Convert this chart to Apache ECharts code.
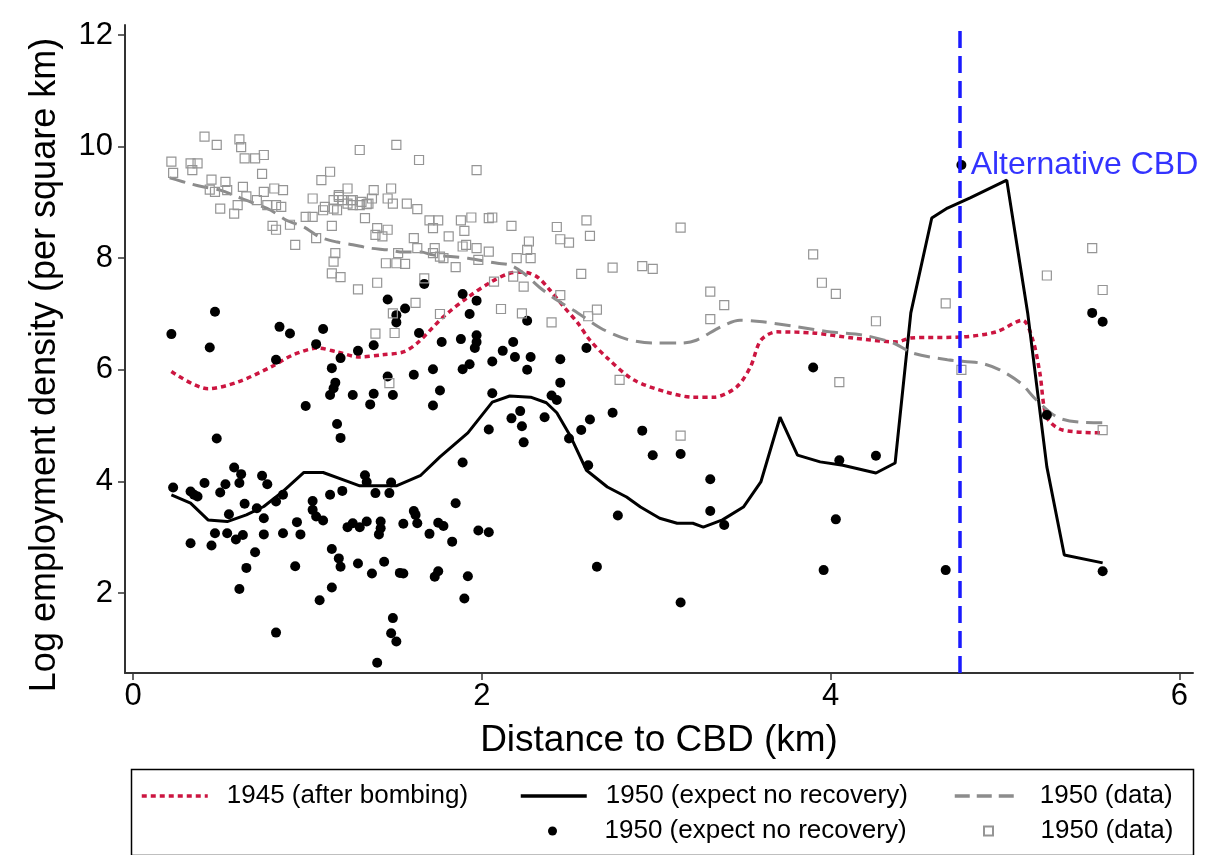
<!DOCTYPE html>
<html><head><meta charset="utf-8">
<script src="https://cdn.jsdelivr.net/npm/echarts@6/dist/echarts.min.js"></script>
<style>html,body{margin:0;padding:0;background:#fff}#c{width:1219px;height:855px}</style>
</head><body><div id="c"></div>
<script>
// ---------- data ----------
const xTicks = [0, 2, 4, 6];
const yTicks = [2, 4, 6, 8, 10, 12];
const cbdX = 4.74;
const cbdLabelY = 9.67;
const cbdLabel = 'Alternative CBD';
const xTitle = 'Distance to CBD (km)';
const yTitle = 'Log employment density (per square km)';

// 1945 (after bombing) – smoothed line
const line1945 = [[0.22,5.97],[0.43,5.66],[0.60,5.78],[0.79,6.05],[0.92,6.27],[1.06,6.39],[1.17,6.32],[1.30,6.23],[1.43,6.27],[1.55,6.32],[1.63,6.48],[1.78,6.95],[1.92,7.30],[2.05,7.57],[2.16,7.73],[2.24,7.75],[2.32,7.66],[2.39,7.43],[2.47,7.13],[2.55,6.84],[2.62,6.53],[2.72,6.21],[2.87,5.82],[3.06,5.60],[3.21,5.51],[3.33,5.51],[3.46,5.69],[3.54,6.05],[3.60,6.53],[3.69,6.68],[3.90,6.66],[4.13,6.57],[4.38,6.50],[4.46,6.57],[4.76,6.59],[4.95,6.68],[5.10,6.89],[5.16,6.53],[5.20,5.94],[5.24,5.15],[5.33,4.92],[5.56,4.87]];

// 1950 (expect no recovery) – line
const lineNoRecovery = [[0.22,3.76],[0.33,3.61],[0.43,3.31],[0.54,3.28],[0.65,3.40],[0.75,3.55],[0.86,3.82],[0.98,4.16],[1.09,4.16],[1.23,4.00],[1.30,3.92],[1.51,3.92],[1.65,4.11],[1.76,4.44],[1.92,4.87],[2.06,5.42],[2.16,5.53],[2.28,5.51],[2.37,5.41],[2.43,5.23],[2.51,4.80],[2.60,4.20],[2.72,3.90],[2.83,3.72],[2.91,3.54],[3.02,3.34],[3.12,3.25],[3.21,3.25],[3.27,3.18],[3.38,3.31],[3.50,3.54],[3.60,3.99],[3.71,5.15],[3.81,4.47],[3.94,4.35],[4.07,4.29],[4.26,4.15],[4.37,4.33],[4.46,7.02],[4.58,8.72],[4.67,8.90],[4.80,9.08],[5.01,9.40],[5.13,7.02],[5.24,4.26],[5.34,2.68],[5.56,2.54]];

// 1950 (data) – smoothed line
const lineData1950 = [[0.21,9.44],[0.31,9.35],[0.40,9.28],[0.50,9.22],[0.60,9.10],[0.69,8.99],[0.79,8.86],[0.88,8.68],[0.98,8.56],[1.07,8.38],[1.17,8.29],[1.26,8.24],[1.36,8.18],[1.46,8.15],[1.55,8.11],[1.65,8.11],[1.72,8.06],[1.92,8.00],[2.09,7.91],[2.16,7.88],[2.24,7.73],[2.33,7.48],[2.43,7.25],[2.55,7.02],[2.68,6.75],[2.83,6.55],[2.98,6.48],[3.14,6.48],[3.23,6.53],[3.37,6.77],[3.48,6.89],[3.61,6.86],[3.81,6.77],[4.00,6.68],[4.19,6.62],[4.36,6.48],[4.47,6.30],[4.67,6.18],[4.86,6.12],[4.97,6.00],[5.09,5.76],[5.18,5.46],[5.30,5.15],[5.43,5.06],[5.56,5.05]];

// 1950 (expect no recovery) – points
const dotsNoRecovery = [[0.22,6.64],[0.47,7.04],[0.44,6.40],[0.84,6.77],[0.90,6.65],[1.09,6.73],[1.05,6.46],[0.82,6.18],[0.99,5.35],[0.48,4.77],
[1.14,6.03],[1.16,5.77],[1.15,5.67],[1.13,5.55],[1.19,6.21],[1.29,6.34],[1.38,6.44],[1.26,5.55],[1.38,5.57],[1.36,5.38],
[1.49,5.55],[1.46,5.88],[1.61,5.91],[1.17,5.03],[1.19,4.78],[1.46,7.26],[1.56,7.10],[1.51,6.98],[1.51,6.85],[1.64,6.66],
[0.23,3.89],[0.33,3.82],[0.35,3.76],[0.37,3.73],[0.41,3.97],[0.50,3.80],[0.53,3.95],[0.58,4.25],[0.62,4.13],[0.61,3.97],
[0.74,4.10],[0.77,3.95],[0.64,3.60],[0.55,3.41],[0.71,3.52],[0.75,3.34],[0.82,3.64],[0.86,3.76],[0.33,2.89],[0.45,2.85],
[0.47,3.07],[0.54,3.07],[0.59,2.96],[0.63,3.04],[0.75,3.05],[0.86,3.07],[0.94,3.27],[0.96,3.05],[0.70,2.73],[0.65,2.45],
[0.61,2.07],[0.93,2.48],[0.82,1.29],[1.03,3.65],[1.03,3.49],[1.05,3.37],[1.09,3.30],[1.13,3.76],[1.20,3.83],[1.33,4.11],
[1.34,3.99],[1.39,3.79],[1.47,3.79],[1.48,3.98],[1.23,3.18],[1.26,3.25],[1.30,3.18],[1.34,3.28],[1.42,3.28],[1.42,3.16],
[1.41,3.05],[1.55,3.24],[1.61,3.47],[1.63,3.25],[1.14,2.79],[1.18,2.62],[1.19,2.47],[1.29,2.53],[1.37,2.35],[1.44,2.56],
[1.53,2.36],[1.55,2.35],[1.14,2.10],[1.07,1.87],[1.49,1.55],[1.48,1.28],[1.51,1.13],[1.40,0.75],
[1.67,7.54],[1.89,7.36],[1.97,7.24],[1.93,7.00],[1.77,6.50],[1.88,6.55],[1.97,6.62],[1.97,6.50],[1.96,6.39],[2.18,6.50],
[2.12,6.34],[2.19,6.23],[2.28,6.23],[2.26,6.00],[2.26,6.88],[2.45,6.19],[2.45,5.77],[2.60,6.39],[1.72,6.01],[1.89,6.01],
[1.93,6.10],[2.06,6.15],[1.76,5.63],[1.72,5.36],[2.06,5.58],[2.40,5.54],[2.43,5.46],[2.22,5.26],[2.17,5.13],[2.23,4.99],
[2.36,5.15],[2.04,4.93],[2.24,4.70],[2.57,4.92],[2.62,5.11],[2.75,5.23],[2.50,4.77],[2.61,4.29],[2.92,4.91],[2.98,4.47],
[3.14,4.49],[1.89,4.34],[1.85,3.61],[1.62,3.40],[1.75,3.26],[1.78,3.20],[2.78,3.39],
[1.70,3.06],[1.83,2.92],[1.98,3.12],[2.04,3.09],[1.75,2.39],[1.73,2.29],[1.92,2.30],[1.90,1.90],[2.66,2.47],[3.14,1.83],
[3.31,4.04],[3.31,3.47],[3.39,3.22],[4.03,3.32],[3.96,2.41],[4.05,4.38],[4.26,4.46],[4.66,2.41],[5.24,5.19],[5.56,2.39],
[4.75,9.67],[3.90,6.04],[5.50,7.02],[5.56,6.86]];

// 1950 (data) – points
const squaresData1950 = [[0.41,10.18],[0.48,10.03],[0.61,10.13],[0.62,9.99],[0.64,9.79],[0.70,9.79],[0.75,9.85],[0.22,9.73],[0.23,9.53],[0.33,9.70],
[0.34,9.58],[0.37,9.70],[0.74,9.51],[0.45,9.41],[0.44,9.23],[0.47,9.19],[0.53,9.37],[0.54,9.22],[0.63,9.28],[0.65,9.11],
[0.71,9.04],[0.75,9.19],[0.81,9.25],[0.86,9.22],[0.50,8.89],[0.58,8.80],[0.60,8.95],[0.77,8.95],[0.82,8.95],[0.85,8.92],
[0.80,8.58],[0.82,8.51],[0.93,8.24],[0.90,8.60],[0.99,8.74],[1.03,8.74],[1.05,8.36],[1.08,9.40],[1.13,9.55],[1.03,9.07],
[1.10,8.92],[1.15,9.04],[1.18,9.10],[1.23,9.25],[1.17,8.86],[1.23,8.98],[1.26,9.04],[1.30,8.95],[1.35,8.98],[1.38,9.22],
[1.14,8.58],[1.33,8.72],[1.30,9.94],[1.51,10.03],[1.64,9.76],[1.48,9.25],[1.46,9.07],[1.49,8.98],[1.57,8.98],[1.63,8.88],
[1.40,8.54],[1.46,8.51],[1.39,8.42],[1.43,8.39],[1.61,8.36],[1.63,8.18],[1.52,8.09],[1.45,7.91],[1.51,7.91],[1.56,7.90],
[1.16,8.09],[1.15,7.94],[1.14,7.73],[1.19,7.66],[1.29,7.44],[1.40,7.56],[1.62,7.20],
[1.18,9.13],[1.20,9.04],[1.25,9.04],[1.26,8.95],[1.31,9.01],[1.34,8.97],[1.37,9.07],[1.09,8.86],[1.15,8.89],
[1.70,8.68],[1.75,8.68],[1.72,8.54],[1.81,8.39],[1.73,8.18],[1.72,8.09],[1.76,8.03],[1.78,8.00],[1.76,7.00],
[1.97,9.58],[1.88,8.68],[1.94,8.73],[2.04,8.72],[2.06,8.73],[1.90,8.49],[1.91,8.24],[1.89,8.21],[1.97,8.18],[2.04,8.12],
[1.85,7.84],[1.98,7.97],[2.17,8.58],[2.27,8.30],[2.26,8.15],[2.28,8.00],[2.20,8.00],[2.18,7.67],[2.07,7.58],[2.24,7.49],
[2.11,7.09],[2.23,7.01],[1.67,7.64],[2.40,6.85],[2.43,8.56],[2.60,8.68],[2.45,8.34],[2.50,8.28],[2.62,8.40],[2.57,7.72],
[2.45,7.34],[2.61,6.96],[2.66,7.08],[2.75,7.83],[2.92,7.86],[2.98,7.81],[3.14,8.55],[2.79,5.82],[3.14,4.82],
[1.39,6.65],[1.50,6.66],[1.49,7.01],[1.47,5.76],
[3.90,8.07],[3.95,7.56],[4.03,7.36],[3.31,7.40],[3.39,7.16],[3.31,6.91],[4.26,6.87],[4.66,7.19],[4.75,6.00],[4.05,5.78],
[5.50,8.18],[5.24,7.69],[5.56,7.43],[5.56,4.92]];

const legendLabels = {
  l1945: '1945 (after bombing)',
  lNR: '1950 (expect no recovery)',
  lData: '1950 (data)',
  sNR: '1950 (expect no recovery)',
  sData: '1950 (data)'
};

// ---------- chart ----------
const FONT = '"Liberation Sans", Arial, Helvetica, sans-serif';
const RED = '#cc1540', BLUE = '#1a1aff', BLUETXT = '#0000ff', GRAY = '#8c8c8c', SQ = '#959595';
const chart = echarts.init(document.getElementById('c'), null, {renderer: 'canvas'});

function legendItem(name, left, top, extra) {
  return Object.assign({
    data: [name], left: left, top: top, padding: 0, itemGap: 0,
    itemWidth: 66, itemHeight: 10, selectedMode: false,
    formatter: n => legendLabels[n],
    textStyle: {fontFamily: FONT, fontSize: 26, color: '#000', padding: [0, 0, 0, 14]}
  }, extra || {});
}
function lineKey(color, width, type) {
  return {
    itemHeight: 2,
    itemStyle: {color: 'rgba(0,0,0,0)', borderWidth: 0, opacity: 0},
    lineStyle: {color: color, width: width, type: type, opacity: 1, inactiveWidth: width}
  };
}

const option = {
  animation: false,
  backgroundColor: '#fff',
  textStyle: {fontFamily: FONT},
  grid: {left: 125, right: 26, top: 25, bottom: 182, containLabel: false},
  xAxis: {
    type: 'value', min: -0.046, max: 6.078,
    axisLine: {onZero: false, lineStyle: {color: '#333', width: 2}},
    axisTick: {customValues: xTicks, length: 7, lineStyle: {color: '#333', width: 1.5}},
    axisLabel: {customValues: xTicks, fontSize: 31, color: '#000', fontFamily: FONT, margin: 8},
    splitLine: {show: false},
    name: xTitle, nameLocation: 'middle', nameGap: 49,
    nameTextStyle: {fontSize: 37, color: '#000', fontFamily: FONT}
  },
  yAxis: {
    type: 'value', min: 0.566, max: 12.18,
    axisLine: {onZero: false, lineStyle: {color: '#333', width: 2}},
    axisTick: {customValues: yTicks, length: 7, lineStyle: {color: '#333', width: 1.5}},
    axisLabel: {customValues: yTicks, fontSize: 31, color: '#000', fontFamily: FONT, margin: 12},
    splitLine: {show: false},
    name: yTitle, nameLocation: 'middle', nameGap: 62,
    nameTextStyle: {fontSize: 36, color: '#000', fontFamily: FONT, padding: [0, 32, 0, 0]}
  },
  legend: [
    legendItem('l1945', 140, 783, lineKey(RED, 3.5, [5, 4])),
    legendItem('lNR', 519, 783, lineKey('#000', 3.5, 'solid')),
    legendItem('lData', 953, 783, lineKey(GRAY, 3.5, [15, 7])),
    legendItem('sNR', 548, 818, {icon: 'circle', itemHeight: 9}),
    legendItem('sData', 983, 818, {icon: 'path://M0,0H10V10H0Z', itemHeight: 9})
  ],
  graphic: [{
    type: 'rect', left: 129, top: 767, silent: true,
    shape: {width: 1062, height: 86},
    style: {fill: 'none', stroke: '#000', lineWidth: 1.5}
  }],
  series: [
    {
      name: 'cbd', type: 'scatter', data: [[cbdX, cbdLabelY]], symbolSize: 0, silent: true,
      label: {show: true, position: 'right', distance: 11, formatter: cbdLabel, color: BLUETXT, fontSize: 32, fontFamily: FONT},
      markLine: {
        silent: true, symbol: ['none', 'none'], label: {show: false},
        lineStyle: {color: BLUE, width: 3.5, type: [17, 8]},
        data: [{xAxis: cbdX}]
      },
      z: 1
    },
    {
      name: 'l1945', type: 'line', data: line1945, symbol: 'none', smooth: 0.3,
      lineStyle: {color: RED, width: 3.5, type: [5, 4]}, itemStyle: {color: RED}, z: 3
    },
    {
      name: 'lNR', type: 'line', data: lineNoRecovery, symbol: 'none', smooth: false,
      lineStyle: {color: '#000', width: 3}, itemStyle: {color: '#000'}, z: 3
    },
    {
      name: 'lData', type: 'line', data: lineData1950, symbol: 'none', smooth: 0.3,
      lineStyle: {color: GRAY, width: 3, type: [16, 8]}, itemStyle: {color: GRAY}, z: 3
    },
    {
      name: 'sNR', type: 'scatter', data: dotsNoRecovery, symbol: 'circle', symbolSize: 10,
      itemStyle: {color: '#000', opacity: 1}, z: 4
    },
    {
      name: 'sData', type: 'scatter', data: squaresData1950, symbol: 'rect', symbolSize: 9,
      itemStyle: {color: 'rgba(255,255,255,0)', borderColor: SQ, borderWidth: 1.2, opacity: 1}, z: 4
    }
  ]
};
chart.setOption(option);
</script>
</body></html>
